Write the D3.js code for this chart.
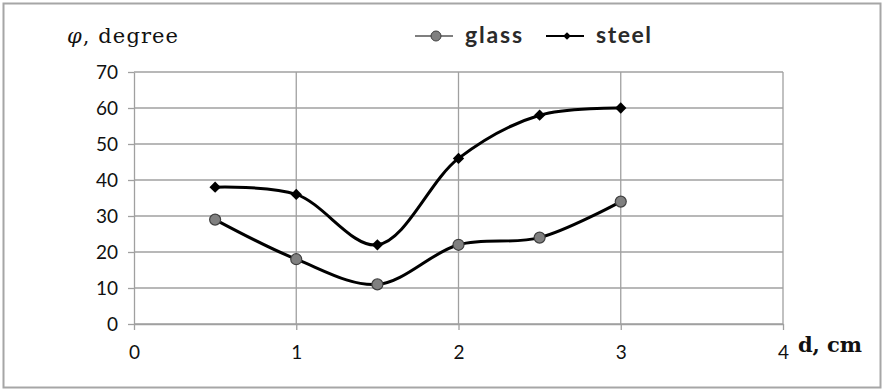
<!DOCTYPE html>
<html><head><meta charset="utf-8">
<script src="https://cdn.jsdelivr.net/npm/d3@7"></script>
<style>body{margin:0;background:#fff}</style>
</head><body>
<svg id="c" width="888" height="392"></svg>
<script>
const xTicks = [0, 1, 2, 3, 4];
const yTicks = [0, 10, 20, 30, 40, 50, 60, 70];
const dValues = [0.5, 1, 1.5, 2, 2.5, 3];
const glass = [29, 18, 11, 22, 24, 34];
const steel = [38, 36, 22, 46, 58, 60];
const seriesNames = ["glass", "steel"];

const svg = d3.select("#c");
svg.append("rect").attr("x",3.5).attr("y",3.5).attr("width",877).attr("height",384)
  .attr("fill","#fff").attr("stroke","#a6a6a6").attr("stroke-width",2);

const x = d3.scaleLinear().domain([0,4]).range([134,783]);
const y = d3.scaleLinear().domain([0,70]).range([324,72]);

// grid
const g = svg.append("g");
g.selectAll(".hg").data(yTicks).join("line")
  .attr("x1",x(0)).attr("x2",x(4)).attr("y1",d=>y(d)).attr("y2",d=>y(d))
  .attr("stroke","#a0a0a0").attr("stroke-width",1.3);
g.selectAll(".vg").data(xTicks.slice(1)).join("line")
  .attr("x1",d=>x(d)).attr("x2",d=>x(d)).attr("y1",y(0)).attr("y2",y(70))
  .attr("stroke","#a0a0a0").attr("stroke-width",1.3);

// axes
const yAxis = d3.axisLeft(y).tickValues(yTicks).tickSize(6).tickPadding(10).tickSizeOuter(0);
const ya = svg.append("g").attr("transform",`translate(${x(0)},0)`).call(yAxis);
const xAxis = d3.axisBottom(x).tickValues(xTicks).tickFormat(d3.format("d")).tickSize(6).tickPadding(16).tickSizeOuter(0);
const xa = svg.append("g").attr("transform",`translate(0,${y(0)})`).call(xAxis);
[ya,xa].forEach(a=>{
  a.select(".domain").attr("stroke","#a0a0a0").attr("stroke-width",1.3);
  a.selectAll("line").attr("stroke","#a0a0a0").attr("stroke-width",1.3);
  a.selectAll("text").attr("font-family","Lato, sans-serif").attr("font-size",19).attr("fill","#111");
});

const line = d3.line().x((d,i)=>x(dValues[i])).y(d=>y(d)).curve(d3.curveCatmullRom.alpha(0.5));
svg.append("path").attr("d",line(glass)).attr("fill","none").attr("stroke","#000").attr("stroke-width",3);
svg.append("path").attr("d",line(steel)).attr("fill","none").attr("stroke","#000").attr("stroke-width",3);

const sq = d3.symbol().type(d3.symbolSquare).size(64);
svg.selectAll(".gm").data(glass).join("circle")
  .attr("cx",(d,i)=>x(dValues[i])).attr("cy",d=>y(d)).attr("r",5.5)
  .attr("fill","#808080").attr("stroke","#404040").attr("stroke-width",1.2);
svg.selectAll(".sm").data(steel).join("path")
  .attr("d",sq).attr("transform",(d,i)=>`translate(${x(dValues[i])},${y(d)}) rotate(45)`)
  .attr("fill","#000");

// axis titles
const yt = svg.append("text").attr("x",67).attr("y",43)
  .attr("font-family","'DejaVu Serif', serif").attr("font-size",21).attr("fill","#111")
  .attr("textLength",111).attr("lengthAdjust","spacing");
yt.append("tspan").attr("font-style","italic").text("φ");
yt.append("tspan").text(", degree");
svg.append("text").attr("x",798).attr("y",352)
  .attr("font-family","'DejaVu Serif', serif").attr("font-size",21).attr("font-weight","600").attr("fill","#111")
  .attr("textLength",64).attr("lengthAdjust","spacing")
  .text("d, cm");

// legend
const leg = [{name:seriesNames[0],x0:415,w:57},{name:seriesNames[1],x0:546,w:55}];
leg.forEach((l,i)=>{
  svg.append("line").attr("x1",l.x0).attr("x2",l.x0+38).attr("y1",36).attr("y2",36)
    .attr("stroke",i===0?"#7f7f7f":"#000").attr("stroke-width",2);
  if(i===0) svg.append("circle").attr("cx",l.x0+21).attr("cy",36).attr("r",5)
    .attr("fill","#808080").attr("stroke","#404040");
  else svg.append("path").attr("d",d3.symbol().type(d3.symbolSquare).size(30))
    .attr("transform",`translate(${l.x0+21},36) rotate(45)`).attr("fill","#000");
  svg.append("text").attr("x",l.x0+50).attr("y",43).attr("font-family","Lato, sans-serif")
    .attr("font-size",23).attr("font-weight","bold").attr("fill","#2a2a2a")
    .attr("textLength",l.w).attr("lengthAdjust","spacing").text(l.name);
});
</script>
</body></html>
